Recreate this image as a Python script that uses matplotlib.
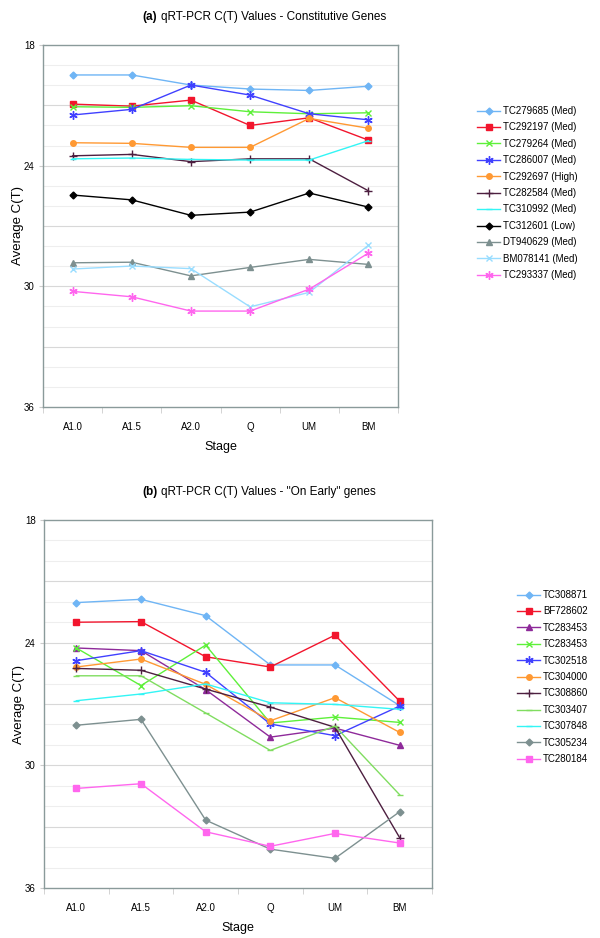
import matplotlib
matplotlib.use("Agg")
import matplotlib.pyplot as plt
import numpy as np

plt.rcParams['font.family'] = ['Liberation Sans', 'DejaVu Sans']

stages = ["A1.0", "A1.5", "A2.0", "Q", "UM", "BM"]

# (a) Constitutive genes
genes_a = ["TC279685 (Med)", "TC292197 (Med)", "TC279264 (Med)", "TC286007 (Med)",
           "TC292697 (High)", "TC282584 (Med)", "TC310992 (Med)", "TC312601 (Low)",
           "DT940629 (Med)", "BM078141 (Med)", "TC293337 (Med)"]
tc279685 = [19.49, 19.49, 19.99, 20.19, 20.26, 20.05]
tc292197 = [20.94, 21.04, 20.74, 22.00, 21.62, 22.73]
tc279264 = [21.07, 21.10, 21.02, 21.32, 21.42, 21.37]
tc286007 = [21.48, 21.20, 19.99, 20.49, 21.42, 21.72]
tc292697 = [22.86, 22.89, 23.09, 23.09, 21.65, 22.14]
tc282584 = [23.51, 23.44, 23.80, 23.66, 23.66, 25.25]
tc310992 = [23.66, 23.62, 23.69, 23.72, 23.72, 22.76]
tc312601 = [25.46, 25.70, 26.47, 26.31, 25.36, 26.06]
dt940629 = [28.83, 28.80, 29.48, 29.06, 28.66, 28.91]
bm078141 = [29.14, 28.99, 29.12, 31.02, 30.30, 27.96]
tc293337 = [30.25, 30.52, 31.23, 31.23, 30.14, 28.35]
values_a = [tc279685, tc292197, tc279264, tc286007, tc292697, tc282584,
            tc310992, tc312601, dt940629, bm078141, tc293337]

# (b) "On Early" genes
genes_b = ["TC308871", "BF728602", "TC283453", "TC283453", "TC302518", "TC304000",
           "TC308860", "TC303407", "TC307848", "TC305234", "TC280184"]
tc308871 = [22.04, 21.88, 22.68, 25.09, 25.09, 27.08]
bf728602 = [23.00, 22.97, 24.69, 25.19, 23.63, 26.86]
tc283453_a = [24.26, 24.39, 26.30, 28.62, 28.18, 29.02]
tc283453_b = [24.26, 26.10, 24.12, 27.93, 27.64, 27.90]
tc302518 = [24.88, 24.39, 25.45, 27.98, 28.55, 27.10]
tc304000 = [25.19, 24.80, 26.04, 27.82, 26.69, 28.39]
tc308860 = [25.26, 25.35, 26.27, 27.15, 28.14, 33.54]
tc303407 = [25.62, 25.62, 27.44, 29.27, 28.08, 31.44]
tc307848 = [26.84, 26.51, 26.02, 26.94, 27.02, 27.26]
tc305234 = [28.04, 27.75, 32.68, 34.10, 34.55, 32.27]
tc280184 = [31.13, 30.90, 33.25, 33.96, 33.33, 33.80]
values_b = [tc308871, bf728602, tc283453_a, tc283453_b, tc302518, tc304000,
            tc308860, tc303407, tc307848, tc305234, tc280184]

ast = (6, 2, 0)
styles_a = [("#6fb5f5", "D", 3.5), ("#f2152d", "s", 4), ("#5ef03a", "x", 5),
            ("#4040ff", ast, 6), ("#ff9933", "o", 4), ("#4d1f40", "+", 6),
            ("#33f5f5", "_", 5), ("#000000", "D", 3.5), ("#7d9090", "^", 5),
            ("#99ddff", "x", 5), ("#ff66ee", ast, 6)]
styles_b = [("#6fb5f5", "D", 3.5), ("#f2152d", "s", 4.5), ("#8e2a9a", "^", 5),
            ("#5ef03a", "x", 5), ("#4040ff", ast, 6), ("#ff9933", "o", 4),
            ("#4d1f40", "+", 6), ("#80dd60", "_", 4), ("#33f5f5", "_", 5),
            ("#7d9090", "D", 3.5), ("#ff66ee", "s", 4)]

fig = plt.figure(figsize=(6, 9.38), dpi=100)
H = 938.0
W = 600.0

def make_axes(left, right, top, bottom):
    return fig.add_axes([left / W, 1 - bottom / H, (right - left) / W, (bottom - top) / H])

def setup(ax, values, names, styles, legend_x, legend_top):
    x = np.arange(len(stages))
    for y in range(19, 36):
        c = "#d8d8d8" if y % 3 == 0 else "#eeeeee"
        ax.axhline(y, color=c, lw=0.8, zorder=0)
    handles = []
    for vals, name, (col, mk, ms) in zip(values, names, styles):
        h, = ax.plot(x, vals, color=col, lw=1.0, marker=mk, markersize=ms,
                     markeredgewidth=1.0, markerfacecolor=col, markeredgecolor=col,
                     label=name, zorder=3)
        handles.append(h)
    ax.set_xlim(-0.5, len(stages) - 0.5)
    ax.set_ylim(36, 18)
    ax.set_yticks([18, 24, 30, 36])
    ax.set_yticklabels(["18", "24", "30", "36"], fontsize=7)
    ax.set_xticks(x)
    ax.set_xticklabels(stages, fontsize=7)
    ax.set_xticks(np.arange(-0.5, len(stages)), minor=True)
    ax.tick_params(axis='x', which='major', length=0, pad=11)
    ax.tick_params(axis='x', which='minor', length=4, color="#cccccc", direction='out')
    ax.tick_params(axis='y', which='major', length=3, color="#cccccc", pad=3)
    for s in ax.spines.values():
        s.set_color("#8a9a9a")
        s.set_linewidth(1.0)
    ax.set_xlabel("Stage", fontsize=9, labelpad=6)
    ax.set_ylabel("Average C(T)", fontsize=9.5, labelpad=0)
    fig.legend(handles=handles, loc='upper left',
               bbox_to_anchor=(legend_x / W, 1 - legend_top / H),
               frameon=False, fontsize=7, handlelength=2.4, handletextpad=0.25,
               labelspacing=0.66, borderaxespad=0, borderpad=0)
    return ax

ax1 = make_axes(43, 398, 45, 407)
setup(ax1, values_a, genes_a, styles_a, 477, 106)
ax2 = make_axes(44, 432, 520, 888)
setup(ax2, values_b, genes_b, styles_b, 517, 590)

fig.text(142 / W, 1 - 17 / H, "(a)", fontsize=8.5, fontweight='bold', ha='left', va='center')
fig.text(161 / W, 1 - 17 / H, "qRT-PCR C(T) Values - Constitutive Genes", fontsize=8.5,
         ha='left', va='center')
fig.text(142 / W, 1 - 492 / H, "(b)", fontsize=8.5, fontweight='bold', ha='left', va='center')
fig.text(161 / W, 1 - 492 / H, "qRT-PCR C(T) Values - \"On Early\" genes", fontsize=8.5,
         ha='left', va='center')

fig.savefig("out.png", dpi=100)
